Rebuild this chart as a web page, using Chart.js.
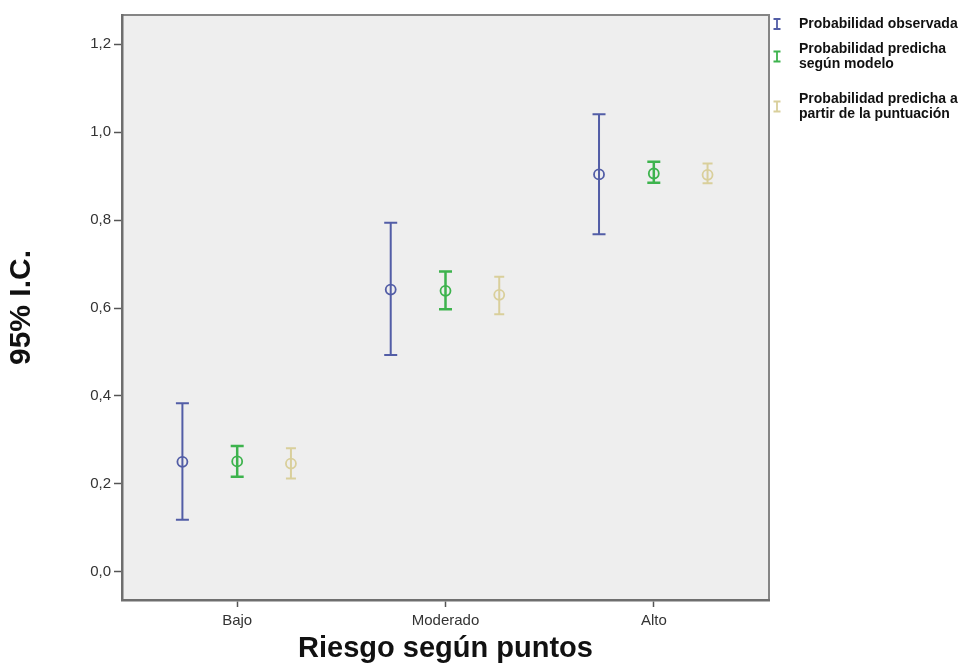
<!DOCTYPE html>
<html>
<head>
<meta charset="utf-8">
<script src="https://cdn.jsdelivr.net/npm/chart.js@4/dist/chart.umd.min.js"></script>
<style>
  html, body { margin: 0; padding: 0; background: #fff; }
  #wrap { width: 965px; height: 668px; position: relative; }
</style>
</head>
<body>
<div id="wrap"><canvas id="ci-chart"></canvas></div>
<script>
// categories on the x axis
const categories = ['Bajo', 'Moderado', 'Alto'];

// legend labels (one entry per series, split into lines)
const seriesLabels = [
    ['Probabilidad observada'],
    ['Probabilidad predicha', 'según modelo'],
    ['Probabilidad predicha a', 'partir de la puntuación'],
];

// observed probability: point estimate and 95% CI
const observedMean = [0.250, 0.642, 0.904];
const observedLow  = [0.118, 0.493, 0.768];
const observedHigh = [0.383, 0.794, 1.041];

// predicted by model
const modelMean = [0.251, 0.639, 0.906];
const modelLow  = [0.216, 0.597, 0.885];
const modelHigh = [0.286, 0.683, 0.933];

// predicted from score
const scoreMean = [0.246, 0.630, 0.903];
const scoreLow  = [0.212, 0.586, 0.884];
const scoreHigh = [0.281, 0.671, 0.929];

const yTicks = [0, 0.2, 0.4, 0.6, 0.8, 1.0, 1.2];

const colors = ['#525da6', '#3db34d', '#d9cf9b'];
const offsets = [-0.263, 0, 0.258];
const capHalf = [6.5, 6.5, 5];
const barWidth = [2, 2.5, 2];

const means = [observedMean, modelMean, scoreMean];
const lows = [observedLow, modelLow, scoreLow];
const highs = [observedHigh, modelHigh, scoreHigh];

const datasets = means.map((m, s) => ({
    label: seriesLabels[s].join(' '),
    data: m.map((v, i) => ({ x: i + 1 + offsets[s], y: v })),
    borderColor: colors[s],
    backgroundColor: 'rgba(0,0,0,0)',
    pointStyle: 'circle',
    pointRadius: 5,
    pointBorderWidth: 1.8,
    showLine: false,
}));

const plotFrame = {
    id: 'plotFrame',
    beforeDraw(chart) {
        const a = chart.chartArea;
        const c = chart.ctx;
        c.save();
        c.fillStyle = '#eeeeee';
        c.fillRect(a.left, a.top, a.right - a.left, a.bottom - a.top);
        c.strokeStyle = '#858585';
        c.lineWidth = 2;
        c.beginPath();
        c.moveTo(a.left, a.top);
        c.lineTo(a.right, a.top);
        c.lineTo(a.right, a.bottom);
        c.stroke();
        c.restore();
    },
};

const errorBars = {
    id: 'errorBars',
    afterDatasetsDraw(chart) {
        const c = chart.ctx;
        const yScale = chart.scales.y;
        c.save();
        chart.data.datasets.forEach((ds, s) => {
            const meta = chart.getDatasetMeta(s);
            c.strokeStyle = colors[s];
            c.lineWidth = barWidth[s];
            meta.data.forEach((pt, i) => {
                const x = pt.x;
                const yl = yScale.getPixelForValue(lows[s][i]);
                const yh = yScale.getPixelForValue(highs[s][i]);
                c.beginPath();
                c.moveTo(x, yl);
                c.lineTo(x, yh);
                c.moveTo(x - capHalf[s], yl);
                c.lineTo(x + capHalf[s], yl);
                c.moveTo(x - capHalf[s], yh);
                c.lineTo(x + capHalf[s], yh);
                c.stroke();
            });
        });
        c.restore();
    },
    afterDraw(chart) {
        // legend on the right of the plot
        const c = chart.ctx;
        const a = chart.chartArea;
        const iconX = a.right + 8;
        const textX = a.right + 30;
        const rowTops = [17, 42, 92];
        c.save();
        c.font = 'bold 14px "Liberation Sans", Arial, sans-serif';
        c.fillStyle = '#111';
        c.textBaseline = 'middle';
        seriesLabels.forEach((lines, s) => {
            const top = rowTops[s];
            lines.forEach((ln, k) => c.fillText(ln, textX, top + 7 + k * 15));
            const cy = top + (lines.length === 1 ? 7 : 14.5);
            c.strokeStyle = colors[s];
            c.lineWidth = 1.8;
            c.beginPath();
            c.moveTo(iconX, cy - 5);
            c.lineTo(iconX, cy + 5);
            c.moveTo(iconX - 3.5, cy - 5);
            c.lineTo(iconX + 3.5, cy - 5);
            c.moveTo(iconX - 3.5, cy + 5);
            c.lineTo(iconX + 3.5, cy + 5);
            c.stroke();
        });
        c.restore();
    },
};

const tickFont = { family: '"Liberation Sans", Arial, sans-serif', size: 15 };

new Chart(document.getElementById('ci-chart').getContext('2d'), {
    type: 'scatter',
    data: { datasets: datasets },
    options: {
        responsive: true,
        maintainAspectRatio: false,
        animation: false,
        layout: { padding: { top: 15, right: 196, left: 0, bottom: 0 } },
        plugins: {
            legend: { display: false },
            tooltip: { enabled: false },
        },
        scales: {
            x: {
                type: 'linear',
                min: 0.447,
                max: 3.553,
                afterBuildTicks: (scale) => {
                    scale.ticks = categories.map((c, i) => ({ value: i + 1 }));
                },
                afterFit: (scale) => { scale.height = 68; },
                ticks: {
                    autoSkip: false,
                    maxRotation: 0,
                    padding: 5,
                    color: '#333',
                    font: tickFont,
                    callback: (v, i) => categories[i],
                },
                grid: { drawOnChartArea: false, tickLength: 7, tickColor: '#555', tickWidth: 1.5 },
                border: { color: '#6e6e6e', width: 2.5 },
                title: {
                    display: true,
                    text: 'Riesgo según puntos',
                    color: '#111',
                    padding: { top: 0, bottom: 2 },
                    font: { family: '"Liberation Sans", Arial, sans-serif', size: 29, weight: 'bold' },
                },
            },
            y: {
                min: -0.0644,
                max: 1.2667,
                afterBuildTicks: (scale) => {
                    scale.ticks = yTicks.map(v => ({ value: v }));
                },
                afterFit: (scale) => { scale.width = 122; },
                ticks: {
                    padding: 3,
                    color: '#333',
                    font: tickFont,
                    callback: (v) => v.toFixed(1).replace('.', ','),
                },
                grid: { drawOnChartArea: false, tickLength: 8, tickColor: '#555', tickWidth: 1.5 },
                border: { color: '#6e6e6e', width: 2.5 },
                title: {
                    display: true,
                    text: '95% I.C.',
                    color: '#111',
                    padding: { top: 4, bottom: 0 },
                    font: { family: '"Liberation Sans", Arial, sans-serif', size: 30, weight: 'bold' },
                },
            },
        },
    },
    plugins: [plotFrame, errorBars],
});
</script>
</body>
</html>
